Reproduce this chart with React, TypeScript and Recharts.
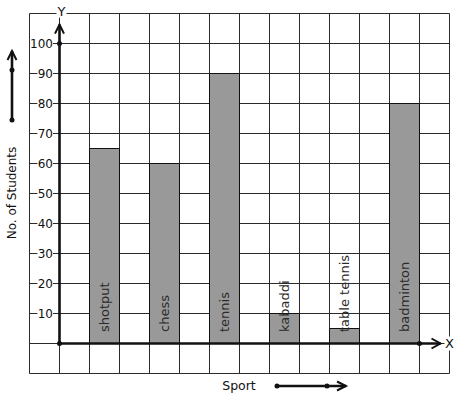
import React from "react";
import { BarChart, Bar, XAxis, YAxis, CartesianGrid, ReferenceLine, ReferenceDot, LabelList } from "recharts";

const sports = ["shotput", "chess", "tennis", "kabaddi", "table tennis", "badminton"];
const students = [65, 60, 90, 10, 5, 80];
const yLabels = [10, 20, 30, 40, 50, 60, 70, 80, 90, 100];
const gridX = [0, 1, 2, 3, 4, 5, 6, 7, 8, 9, 10, 11, 12, 13, 14];
const gridY = [-10, 0, 10, 20, 30, 40, 50, 60, 70, 80, 90, 100, 110];

// 14 graph-paper columns, y axis on line 1, sports on every second column from 2
const data = gridX.slice(0, 14).map((slot) => {
  const k = (slot - 2) / 2;
  if (slot >= 2 && slot % 2 === 0 && k < sports.length) {
    return { slot, sport: sports[k], students: students[k] };
  }
  return { slot };
});

const INK = "#111";

// y tick label sitting on the grid line, with a white box knocking the line out
const tickShape = (v: number) => (p: any) => {
  const s = String(v);
  const w = s.length * 7.3 + 1;
  const right = p.cx + 23.5;
  return (
    <g>
      <rect x={right - w} y={p.cy - 7} width={w} height={13} fill="white" />
      <text x={right} y={p.cy} textAnchor="end" dominantBaseline="central" fontSize={12} fill={INK}>{s}</text>
    </g>
  );
};

const YArrow = (p: any) => {
  const { x1, y1, x2, y2 } = p;
  return (
    <g>
      <line x1={x1} y1={y1} x2={x2} y2={y2} stroke={INK} strokeWidth={2.6} />
      <polyline points={`${x2 - 4.5},${y2 + 9} ${x2},${y2} ${x2 + 4.5},${y2 + 9}`} fill="none" stroke={INK} strokeWidth={2} />
      <rect x={x2 - 3} y={y2 - 20} width={10} height={13} fill="white" />
      <text x={x2 + 2} y={y2 - 13} textAnchor="middle" dominantBaseline="central" fontSize={13} fill={INK}>Y</text>
    </g>
  );
};

const XArrow = (p: any) => {
  const { x1, y1, x2, y2 } = p;
  return (
    <g>
      <line x1={x1} y1={y1} x2={x2} y2={y2} stroke={INK} strokeWidth={2.6} />
      <polyline points={`${x2 - 9},${y2 - 5} ${x2},${y2} ${x2 - 9},${y2 + 5}`} fill="none" stroke={INK} strokeWidth={2} />
      <rect x={x2 + 4} y={y2 - 7} width={10} height={14} fill="white" />
      <text x={x2 + 9} y={y2} textAnchor="middle" dominantBaseline="central" fontSize={13} fill={INK}>X</text>
    </g>
  );
};

const BarName = (p: any) => {
  if (!p.value) return null;
  const cx = p.x + p.width / 2;
  const by = p.y + p.height - 11.5;
  return (
    <text x={cx} y={by} transform={`rotate(-90 ${cx} ${by})`} textAnchor="start" dominantBaseline="central" fontSize={13} fill="#2a2a2a">
      {p.value}
    </text>
  );
};

export default function App() {
  return (
    <div style={{ position: "absolute", left: 0, top: 0, width: 457, height: 399, background: "white", fontFamily: "'DejaVu Sans', sans-serif" }}>
      <BarChart width={457} height={399} data={data} margin={{ top: 13.5, right: 7.5, bottom: 25.5, left: 29.5 }} barCategoryGap={0} barGap={0}>
        <XAxis xAxisId="cat" dataKey="slot" type="category" hide padding={{ left: 0, right: 0 }} />
        <XAxis xAxisId="grid" dataKey="slot" type="number" domain={[0, 14]} ticks={gridX} allowDataOverflow hide />
        <YAxis yAxisId="g" type="number" domain={[-10, 110]} ticks={gridY} allowDataOverflow hide />
        <CartesianGrid xAxisId="grid" yAxisId="g" stroke="#2b2b2b" strokeWidth={1} />
        <Bar xAxisId="cat" yAxisId="g" dataKey="students" fill="#999999" stroke={INK} strokeWidth={1} isAnimationActive={false}>
          <LabelList dataKey="sport" content={<BarName />} />
        </Bar>
        {yLabels.map((v) => (
          <ReferenceDot key={v} xAxisId="grid" yAxisId="g" x={0} y={v} shape={tickShape(v)} ifOverflow="visible" />
        ))}
        <ReferenceLine xAxisId="grid" yAxisId="g" segment={[{ x: 1, y: 0 }, { x: 1, y: 106.3 }]} shape={YArrow} ifOverflow="visible" />
        <ReferenceLine xAxisId="grid" yAxisId="g" segment={[{ x: 1, y: 0 }, { x: 13.7, y: 0 }]} shape={XArrow} ifOverflow="visible" />
        <ReferenceDot xAxisId="grid" yAxisId="g" x={1} y={0} r={2.5} fill={INK} stroke="none" />
        <ReferenceDot xAxisId="grid" yAxisId="g" x={1} y={100} r={2.5} fill={INK} stroke="none" />
        <ReferenceDot xAxisId="grid" yAxisId="g" x={13} y={0} r={2.5} fill={INK} stroke="none" />
      </BarChart>
      <svg width={457} height={399} style={{ position: "absolute", left: 0, top: 0, pointerEvents: "none" }}>
        <text x={12} y={193} transform="rotate(-90 12 193)" textAnchor="middle" dominantBaseline="central" fontSize={12} fill={INK}>No. of Students</text>
        <line x1={12} y1={120} x2={12} y2={51} stroke={INK} strokeWidth={2.6} />
        <polyline points="7.5,60 12,51 16.5,60" fill="none" stroke={INK} strokeWidth={2} />
        <circle cx={12} cy={70} r={2.5} fill={INK} />
        <circle cx={12} cy={120} r={2.5} fill={INK} />
        <text x={239} y={385} textAnchor="middle" dominantBaseline="central" fontSize={12.5} fill={INK}>Sport</text>
        <line x1={277} y1={386} x2={346} y2={386} stroke={INK} strokeWidth={2.6} />
        <polyline points="337,381.5 346,386 337,390.5" fill="none" stroke={INK} strokeWidth={2} />
        <circle cx={277} cy={386} r={2.5} fill={INK} />
        <circle cx={327} cy={386} r={2.5} fill={INK} />
      </svg>
    </div>
  );
}
